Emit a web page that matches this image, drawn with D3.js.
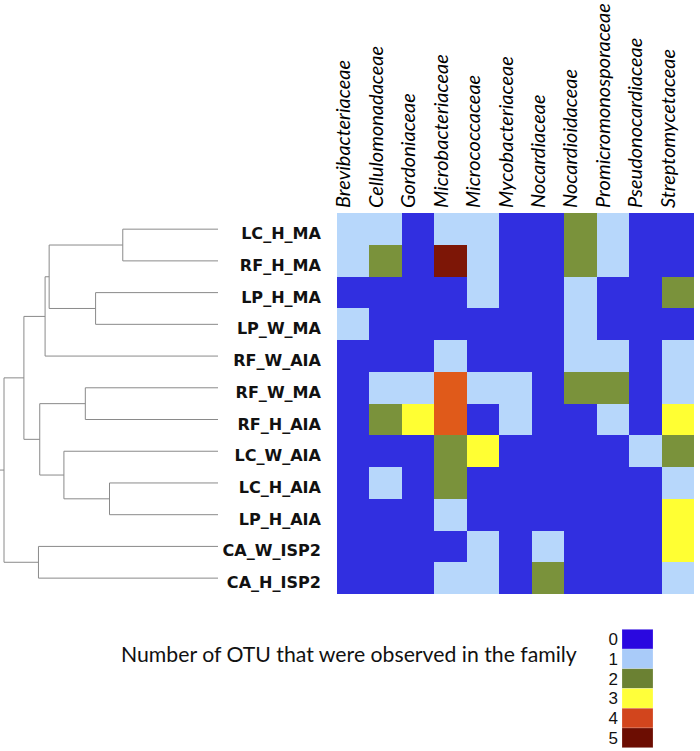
<!DOCTYPE html>
<html>
<head>
<meta charset="utf-8">
<script src="https://cdn.jsdelivr.net/npm/d3@7"></script>
<style>
  html, body { margin: 0; padding: 0; background: #fff; }
  svg { display: block; }
</style>
</head>
<body>
<svg id="chart" width="700" height="751"></svg>
<script>
// ---------------- data ----------------
const families = ["Brevibacteriaceae", "Cellulomonadaceae", "Gordoniaceae", "Microbacteriaceae",
  "Micrococcaceae", "Mycobacteriaceae", "Nocardiaceae", "Nocardioidaceae",
  "Promicromonosporaceae", "Pseudonocardiaceae", "Streptomycetaceae"];

const samples = ["LC_H_MA", "RF_H_MA", "LP_H_MA", "LP_W_MA", "RF_W_AIA", "RF_W_MA",
  "RF_H_AIA", "LC_W_AIA", "LC_H_AIA", "LP_H_AIA", "CA_W_ISP2", "CA_H_ISP2"];

// OTU counts, one row per sample, one column per family
const counts = [
  [1, 1, 0, 1, 1, 0, 0, 2, 1, 0, 0], // LC_H_MA
  [1, 2, 0, 5, 1, 0, 0, 2, 1, 0, 0], // RF_H_MA
  [0, 0, 0, 0, 1, 0, 0, 1, 0, 0, 2], // LP_H_MA
  [1, 0, 0, 0, 0, 0, 0, 1, 0, 0, 0], // LP_W_MA
  [0, 0, 0, 1, 0, 0, 0, 1, 1, 0, 1], // RF_W_AIA
  [0, 1, 1, 4, 1, 1, 0, 2, 2, 0, 1], // RF_W_MA
  [0, 2, 3, 4, 0, 1, 0, 0, 1, 0, 3], // RF_H_AIA
  [0, 0, 0, 2, 3, 0, 0, 0, 0, 1, 2], // LC_W_AIA
  [0, 1, 0, 2, 0, 0, 0, 0, 0, 0, 1], // LC_H_AIA
  [0, 0, 0, 1, 0, 0, 0, 0, 0, 0, 3], // LP_H_AIA
  [0, 0, 0, 0, 1, 0, 1, 0, 0, 0, 3], // CA_W_ISP2
  [0, 0, 0, 1, 1, 0, 2, 0, 0, 0, 1]  // CA_H_ISP2
];

const legendValues = [0, 1, 2, 3, 4, 5];
const legendTitle = "Number of OTU that were observed in the family";

// hierarchical clustering of samples (merge heights, root = 1)
const tree = {height: 1.0, children: [
  {height: 0.907, children: [
    {height: 0.808, children: [
      {height: 0.789, children: [
        {height: 0.445, children: [{name: "LC_H_MA"}, {name: "RF_H_MA"}]},
        {height: 0.572, children: [{name: "LP_H_MA"}, {name: "LP_W_MA"}]}
      ]},
      {name: "RF_W_AIA"}
    ]},
    {height: 0.833, children: [
      {height: 0.620, children: [{name: "RF_W_MA"}, {name: "RF_H_AIA"}]},
      {height: 0.720, children: [
        {name: "LC_W_AIA"},
        {height: 0.507, children: [{name: "LC_H_AIA"}, {name: "LP_H_AIA"}]}
      ]}
    ]}
  ]},
  {height: 0.839, children: [{name: "CA_W_ISP2"}, {name: "CA_H_ISP2"}]}
]};

// ---------------- styles ----------------
const cellColors   = ["#312fe0", "#b7d7fb", "#7a923b", "#ffff33", "#e05a1a", "#7d1606"];
const legendColors = ["#2a08e0", "#a9cbf9", "#6b8133", "#ffff3a", "#d2451d", "#6c0d02"];

// ---------------- drawing ----------------
const svg = d3.select("#chart");

const x = d3.scaleBand().domain(families).range([337, 694]);
const y = d3.scaleBand().domain(samples).range([213.3, 594]);
const color = d3.scaleOrdinal().domain(legendValues).range(cellColors);
const legendColor = d3.scaleOrdinal().domain(legendValues).range(legendColors);

function fitFont(sel, targetWidth, base) {
  sel.style("font-size", base + "px");
  const w = sel.node().getComputedTextLength();
  return base * targetWidth / w;
}

// cells
const cells = [];
counts.forEach((row, i) => row.forEach((v, j) => cells.push({s: samples[i], f: families[j], v})));
svg.append("g")
  .selectAll("rect")
  .data(cells)
  .join("rect")
  .attr("x", d => x(d.f))
  .attr("y", d => y(d.s))
  .attr("width", x.bandwidth())
  .attr("height", y.bandwidth())
  .attr("fill", d => color(d.v))
  .attr("shape-rendering", "crispEdges");

// column labels
const colG = svg.append("g")
  .style("font-family", "Lato, 'Open Sans', sans-serif")
  .style("font-style", "italic")
  .attr("fill", "#000");
const probe = colG.append("text").text("Promicromonosporaceae");
const colSize = fitFont(probe, 205, 16);
probe.remove();
colG.style("font-size", colSize + "px");
colG.selectAll("text")
  .data(families)
  .join("text")
  .attr("transform", d => `translate(${x(d) + x.bandwidth() / 2 - 3},208) rotate(-90)`)
  .attr("text-anchor", "start")
  .text(d => d);

// row labels
const rowG = svg.append("g")
  .style("font-family", "'DejaVu Sans', Verdana, sans-serif")
  .style("font-weight", "bold")
  .attr("fill", "#111");
const probe2 = rowG.append("text").text("CA_W_ISP2");
const rowSize = fitFont(probe2, 98.5, 14);
probe2.remove();
rowG.style("font-size", rowSize + "px");
rowG.selectAll("text")
  .data(samples)
  .join("text")
  .attr("x", 321)
  .attr("y", d => y(d) + y.bandwidth() / 2 + 10)
  .attr("text-anchor", "end")
  .text(d => d);

// dendrogram
const root = d3.hierarchy(tree);
const hx = d3.scaleLinear().domain([0, 1]).range([218, 4]);
root.eachAfter(n => {
  if (!n.children) { n.py = y(n.data.name) + y.bandwidth() / 2; n.h = 0; }
  else { n.py = d3.mean(n.children, c => c.py); n.h = n.data.height; }
});
const segs = [];
root.each(n => {
  if (n.children) {
    const ys = n.children.map(c => c.py);
    segs.push([hx(n.h), d3.min(ys), hx(n.h), d3.max(ys)]);
    n.children.forEach(c => segs.push([hx(n.h), c.py, hx(c.h), c.py]));
  }
});
segs.push([hx(root.h) - 4, root.py, hx(root.h), root.py]);
svg.append("g")
  .attr("stroke", "#8a8a8a")
  .attr("stroke-width", 1)
  .selectAll("line")
  .data(segs)
  .join("line")
  .attr("x1", d => d[0]).attr("y1", d => d[1])
  .attr("x2", d => d[2]).attr("y2", d => d[3]);

// legend
const ly = d3.scaleBand().domain(legendValues).range([629.3, 747.7]);
const lg = svg.append("g");
lg.selectAll("rect")
  .data(legendValues)
  .join("rect")
  .attr("x", 622)
  .attr("y", d => ly(d))
  .attr("width", 31)
  .attr("height", ly.bandwidth())
  .attr("fill", d => legendColor(d))
  .attr("stroke", "rgba(255,255,255,0.35)")
  .attr("stroke-width", 0.6);
lg.selectAll("text")
  .data(legendValues)
  .join("text")
  .attr("x", 618)
  .attr("y", d => ly(d) + ly.bandwidth() / 2 + 6)
  .attr("text-anchor", "end")
  .style("font-family", "'Liberation Sans Narrow', 'Liberation Sans', Arial, sans-serif")
  .style("font-size", "17px")
  .attr("fill", "#111")
  .text(d => d);

const title = svg.append("text")
  .attr("x", 121)
  .attr("y", 662)
  .style("font-family", "Lato, 'Open Sans', sans-serif")
  .attr("fill", "#111")
  .text(legendTitle);
const tSize = fitFont(title, 456, 18);
title.style("font-size", tSize + "px");
</script>
</body>
</html>
